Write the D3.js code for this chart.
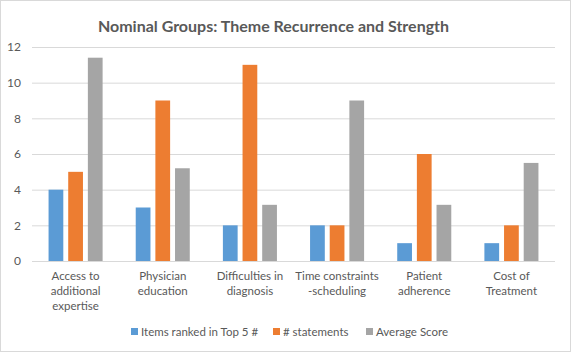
<!DOCTYPE html>
<html><head><meta charset="utf-8">
<script src="https://cdn.jsdelivr.net/npm/d3@7"></script>
<style>
body{margin:0;background:#fff;}
text{font-family:Lato,"Open Sans",sans-serif;}
</style></head>
<body><svg id="c" width="571" height="352"></svg>
<script>
const categories = [
  ["Access to","additional","expertise"],
  ["Physician","education"],
  ["Difficulties in","diagnosis"],
  ["Time constraints","-scheduling"],
  ["Patient","adherence"],
  ["Cost of","Treatment"]
];
const seriesNames = ["Items ranked in Top 5 #", "# statements", "Average Score"];
const itemsTop5 = [4, 3, 2, 2, 1, 1];
const statements = [5, 9, 11, 2, 6, 2];
const averageScore = [11.4, 5.2, 3.15, 9, 3.15, 5.5];
const yTicks = [0, 2, 4, 6, 8, 10, 12];
const colors = ["#5B9BD5", "#ED7D31", "#A5A5A5"];
const title = "Nominal Groups: Theme Recurrence and Strength";

const seriesValues = [itemsTop5, statements, averageScore];
const svg = d3.select("#c");
const W = 571, H = 352;
const m = {left: 32, right: 16, top: 47, bottom: 91};

svg.append("rect").attr("x",0.5).attr("y",0.5).attr("width",W-1).attr("height",H-1)
  .attr("fill","#fff").attr("stroke","#D9D9D9");

const catKeys = categories.map(c => c.join(" "));
const x0 = d3.scaleBand().domain(catKeys).range([m.left, W - m.right]).paddingInner(0.38).paddingOuter(0.19);
const x1 = d3.scaleBand().domain(seriesNames).range([0, x0.bandwidth()]).paddingInner(0.25);
const y = d3.scaleLinear().domain([0, 12]).range([H - m.bottom, m.top]);

// gridlines
const yAxis = d3.axisLeft(y).tickValues(yTicks).tickSize(-(W - m.right - m.left)).tickFormat(d3.format("d"));
const gy = svg.append("g").attr("transform", `translate(${m.left},0)`).call(yAxis);
gy.select(".domain").remove();
gy.selectAll(".tick line").attr("stroke", "#D9D9D9").attr("stroke-width", 1);
gy.selectAll(".tick text").attr("fill", "#595959").attr("font-size", 12).attr("x", -11);

// bars
const groups = svg.append("g").selectAll("g").data(catKeys).join("g")
  .attr("transform", d => `translate(${x0(d)},0)`);
groups.selectAll("rect").data((d, i) => seriesNames.map((s, j) => ({s, v: seriesValues[j][i], j})))
  .join("rect")
  .attr("x", d => x1(d.s))
  .attr("width", x1.bandwidth())
  .attr("y", d => y(d.v))
  .attr("height", d => y(0) - y(d.v))
  .attr("fill", d => colors[d.j]);

// category labels
const xAxis = svg.append("g");
categories.forEach((lines, i) => {
  const cx = x0(catKeys[i]) + x0.bandwidth() / 2;
  const t = xAxis.append("text").attr("text-anchor", "middle").attr("fill", "#595959").attr("font-size", 11.5);
  lines.forEach((ln, k) => t.append("tspan").attr("x", cx).attr("y", 280 + k * 15).text(ln));
});

// title
svg.append("text").attr("x", W / 2 - 12).attr("y", 32).attr("text-anchor", "middle")
  .attr("fill", "#595959").attr("font-size", 16).attr("font-weight", "bold").text(title);

// legend
const legendX = [131, 273, 366];
const lg = svg.append("g");
seriesNames.forEach((s, j) => {
  lg.append("rect").attr("x", legendX[j]).attr("y", 328).attr("width", 7).attr("height", 7).attr("fill", colors[j]);
  lg.append("text").attr("x", legendX[j] + 10).attr("y", 336).attr("fill", "#595959").attr("font-size", 11.5).text(s);
});
</script></body></html>
